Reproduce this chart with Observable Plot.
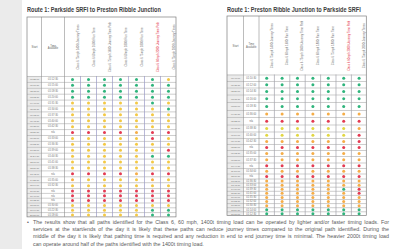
<!DOCTYPE html>
<html><head><meta charset="utf-8">
<script src="https://cdn.jsdelivr.net/npm/d3@7"></script>
<script src="https://cdn.jsdelivr.net/npm/@observablehq/plot@0.6"></script>
<style>
html,body{margin:0;padding:0;background:#fff;}
#page{position:relative;width:396px;height:249px;overflow:hidden;background:#fff;font-family:"Liberation Sans",Arial,sans-serif;}
#strip{position:absolute;left:0;top:0;width:22px;height:249px;background:#ebebeb;}
.title{position:absolute;font-weight:bold;font-size:6.8px;color:#3c3c3c;white-space:nowrap;transform-origin:0 0;transform:scaleX(0.82);}
.tbl{position:absolute;}
#para{position:absolute;left:27px;top:219px;width:362px;font-size:5.3px;color:#5a5a5a;line-height:7.2px;}
#para .b{position:absolute;left:0;top:0;}
#para .ln{margin-left:6px;white-space:nowrap;text-align:justify;text-align-last:justify;}
#para .ln.last{text-align-last:left;}
</style></head>
<body><div id="page">
<div id="strip"></div>
<div class="title" style="left:27px;top:6px">Route 1: Parkside SRFI to Preston Ribble Junction</div>
<div class="title" style="left:227px;top:6px">Route 1: Preston Ribble Junction to Parkside SRFI</div>
<div id="left" class="tbl"></div>
<div id="right" class="tbl"></div>
<div id="para"></div>
</div>
<script>
// ---- data ----
const headerLabels = [
  "Class 6 75mph 1400t Journey Times",
  "Class 6 60mph 1600t Run Time",
  "Class 6 75mph 1600t Journey Time Path",
  "Class 6 60mph 1800t Run Time",
  "Class 6 75mph 1800t Run Time",
  "Class 6 60mph 2000t Journey Time Path",
  "Class 6 75mph 2000t Journey Times"
];
const leftStatus = [
  "GGGGGGY","GGGGGGG","GGGGGGG","GGGGGGG","YYYYYGY","YYYYYYG","YYYYYYY","YYYYYYY","YYYYYYY",
  "RRRRORR","YYYYYRY","YYYYYYY","YYYYYYR","YYYYYGG","YYYYYYY","YYYYYYY","RRRRORR","OYYYYOY",
  "YYYYYYY","RRRRRRR","RRRRRRR","RRRRRRR","YYYYYYY","YYYYYGG","YYYYYGG"
];
const leftStart = [
  "00:25:00","01:10:30","02:05:00","03:12:30","04:40:00","05:15:30","06:02:00","06:48:30","07:35:00",
  "08:20:30","09:05:00","09:52:30","10:38:00","11:24:30","12:10:00","12:56:30","13:42:00","14:28:30",
  "15:14:00","16:00:30","16:46:00","17:32:30","18:18:00","19:04:30","20:50:00"
];
const leftAvail = [
  "01:12:30","01:15:00","01:18:30","01:20:00","01:31:30","01:34:00","01:37:30","01:40:00","01:42:30",
  "n/a","01:33:00","01:36:30","01:39:00","01:44:30","01:41:00","01:38:30","n/a","01:35:00",
  "01:32:30","n/a","n/a","n/a","01:30:00","01:22:30","01:18:00"
];
const rightStatus = [
  "GGGGGGG","GGGGGGG","GGGGGGG","GGGGGGG","GGGGGGG","OOOOOOO","RRRRRRR","LLLLLLO","LLLLLLR",
  "OOOOOOR","RRRRRRR","OOOOOOO","OOOOOOO","RRRRRRR","OOOOOOO","RRRRRRR","OOOOOOO","OOOOOOO",
  "OOOOOGR","OOOOOOR","OOOOOOO","OOOOOOO","OOOOOOO","GGGGGGG","GGGGGGG"
];
const rightStart = [
  "00:40:00","01:35:30","02:20:00","03:05:30","03:50:00","04:36:30","05:22:00","06:08:30","06:54:00",
  "07:40:30","08:26:00","09:12:30","09:58:00","10:44:30","11:30:00","12:16:30","13:02:00","13:48:30",
  "14:34:00","15:20:30","16:06:00","16:52:30","17:38:00","18:24:30","19:10:00"
];
const rightAvail = [
  "01:10:30","01:12:00","01:14:30","01:16:00","01:18:30","01:36:00","n/a","01:38:30","01:40:00",
  "01:42:30","n/a","01:35:00","01:37:30","n/a","01:34:00","n/a","01:36:30","01:33:00",
  "01:39:30","01:41:00","01:35:30","01:32:00","01:30:30","01:14:00","01:12:30"
];
const statusColors = {G:"#2fb47c", Y:"#f3c844", O:"#f5ad48", L:"#e2d743", R:"#e33a52"};
const paraLines = [
  "The results show that all paths identified for the Class 6, 60 mph, 1400t timing load can be operated by lighter and/or faster timing loads. For",
  "services at the start/ends of the day it is likely that these paths can reduce journey times compared to the original path identified. During the",
  "middle of the day it is likely that pathing time is required and any reduction in end to end journey time is minimal. The heavier 2000t timing load",
  "can operate around half of the paths identified with the 1400t timing load."
];

// ---- layout (sizes only) ----
const layoutLeft = {left:27, top:17, colW:[14,23,16,16,16,16,16,16,16], headerH:59,
  rowH:[...Array(19).fill(5.9), ...Array(6).fill(4.8)], vline:"#9a9ac6", redCol:5, labelOff:5.5};
const layoutRight = {left:227, top:16, colW:[16,15.5,15.4,15.4,15.4,15.4,15.4,15.4,15.4], headerH:58.5,
  rowH:[6.5,6.5,7,7.5,8,7,7.5,7,6.5,6,6,6,6.5,5.5,5.5,5, ...Array(9).fill(4.1)], vline:"#a4a4ac", redCol:5, labelOff:5};

function drawTable(el, L, status, starts, avails) {
  const xEdges = [0, ...Array.from(d3.cumsum(L.colW))];
  const yEdges = [0, ...Array.from(d3.cumsum([L.headerH, ...L.rowH]))];
  const W = xEdges[xEdges.length-1], H = yEdges[yEdges.length-1];
  const rowsIdx = d3.range(status.length);
  const yc = i => (yEdges[i+1] + yEdges[i+2]) / 2;
  const xc = j => (xEdges[j] + xEdges[j+1]) / 2;
  const cells = status.flatMap((s, i) => [...s].map((c, j) => ({i, j, c})));
  const hy = L.headerH / 2;
  const svg = Plot.plot({
    width: W + 2, height: H + 2, margin: 0,
    x: {domain: [0, W], range: [1, W + 1], axis: null},
    y: {domain: [0, H], range: [1, H + 1], axis: null},
    color: {type: "identity"},
    style: {fontFamily: "Liberation Sans, Arial, sans-serif", background: "transparent"},
    marks: [
      Plot.rect(rowsIdx, {x1: xEdges[0], x2: xEdges[1], y1: i => yEdges[i+1], y2: i => yEdges[i+2], fill: "#ebebeb"}),
      Plot.ruleY(yEdges.slice(1, -1), {x1: 0, x2: W, stroke: "#acacac", strokeWidth: 0.6}),
      Plot.ruleX(xEdges.slice(3, -1), {y1: L.headerH, y2: H, stroke: L.vline, strokeWidth: 0.7}),
      Plot.ruleX(xEdges.slice(1, 3), {y1: 0, y2: H, stroke: "#8e8e8e", strokeWidth: 0.6}),
      Plot.rect([0], {x1: 0, x2: W, y1: 0, y2: H, fill: "none", stroke: "#7e7e7e", strokeWidth: 0.7}),
      Plot.text(starts, {x: xc(0), y: (d, i) => yc(i), text: d => d, fontSize: 2.4, fill: "#707070"}),
      Plot.text(avails, {x: xc(1), y: (d, i) => yc(i), text: d => d, fontSize: 2.6, fill: "#707070"}),
      Plot.text(["Start"], {x: xc(0), y: hy, text: d => d, fontSize: 2.8, fill: "#666"}),
      Plot.text(["Time Available"], {x: xc(1), y: hy, text: d => d, fontSize: 2.6, fill: "#666", lineWidth: 3.5}),
      Plot.text(headerLabels, {x: (d, j) => xc(j + 2) + L.labelOff, y: hy, text: d => d, rotate: -90,
        fontSize: 2.8, fill: (d, j) => j === L.redCol ? "#e2283a" : "#707070"}),
      Plot.dot(cells, {x: d => xc(d.j + 2), y: d => yc(d.i), r: 1.5, fill: d => statusColors[d.c], stroke: "none"})
    ]
  });
  el.style.left = (L.left - 1) + "px";
  el.style.top = (L.top - 1) + "px";
  el.appendChild(svg);
}
drawTable(document.getElementById("left"), layoutLeft, leftStatus, leftStart, leftAvail);
drawTable(document.getElementById("right"), layoutRight, rightStatus, rightStart, rightAvail);

const para = document.getElementById("para");
para.innerHTML = '<span class="b">•</span>' + paraLines.map((t, i) =>
  `<div class="ln${i === paraLines.length - 1 ? " last" : ""}">${t}</div>`).join("");
</script>
</body></html>
